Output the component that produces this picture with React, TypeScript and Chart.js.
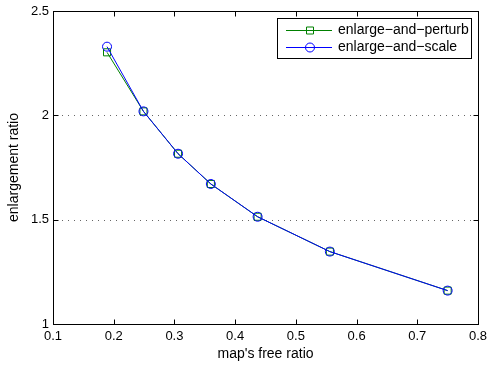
import React, { useEffect, useRef } from "react";
import { Chart, registerables } from "chart.js";

Chart.register(...registerables);

const freeRatio = [0.189, 0.249, 0.306, 0.36, 0.437, 0.556, 0.75];
const perturbValues = [2.302, 2.019, 1.816, 1.671, 1.514, 1.347, 1.16];
const scaleValues = [2.329, 2.019, 1.816, 1.671, 1.514, 1.347, 1.16];
const seriesNames = ["enlarge\u2212and\u2212perturb", "enlarge\u2212and\u2212scale"];
const xTicks = [0.1, 0.2, 0.3, 0.4, 0.5, 0.6, 0.7, 0.8];
const yTicks = [1, 1.5, 2, 2.5];
const xTitle = "map's free ratio";
const yTitle = "enlargement ratio";

const FONT = "Liberation Sans, Arial, Helvetica, sans-serif";
const GREEN = "#008000";
const BLUE = "#0000ff";

const matlabPlugin = {
  id: "matlabFrame",
  beforeDatasetsDraw(chart: any) {
    const { ctx, chartArea: a, scales } = chart;
    const ys = scales.y;
    ctx.save();
    ctx.strokeStyle = "#666";
    ctx.lineWidth = 1;
    ctx.setLineDash([1, 5]);
    yTicks.forEach((v) => {
      if (v === yTicks[0] || v === yTicks[yTicks.length - 1]) return;
      const y = Math.round(ys.getPixelForValue(v)) + 0.5;
      ctx.beginPath();
      ctx.moveTo(a.left + 3, y);
      ctx.lineTo(a.right, y);
      ctx.stroke();
    });
    ctx.restore();
  },
  afterDatasetsDraw(chart: any) {
    const { ctx, chartArea: a, scales } = chart;
    const xs = scales.x;
    const ys = scales.y;
    ctx.save();
    ctx.strokeStyle = "#000";
    ctx.lineWidth = 1;
    const L = Math.round(a.left) + 0.5;
    const R = Math.round(a.right) + 0.5;
    const T = Math.round(a.top) + 0.5;
    const B = Math.round(a.bottom) + 0.5;
    ctx.strokeRect(L, T, R - L, B - T);
    const tl = 5;
    ctx.beginPath();
    xTicks.forEach((v) => {
      const x = Math.round(xs.getPixelForValue(v)) + 0.5;
      ctx.moveTo(x, B);
      ctx.lineTo(x, B - tl);
      ctx.moveTo(x, T);
      ctx.lineTo(x, T + tl);
    });
    yTicks.forEach((v) => {
      const y = Math.round(ys.getPixelForValue(v)) + 0.5;
      ctx.moveTo(L, y);
      ctx.lineTo(L + tl, y);
      ctx.moveTo(R, y);
      ctx.lineTo(R - tl, y);
    });
    ctx.stroke();

    ctx.fillStyle = "#000";
    ctx.font = `13px ${FONT}`;
    ctx.textAlign = "center";
    ctx.textBaseline = "middle";
    xTicks.forEach((v) => {
      ctx.fillText(String(v), xs.getPixelForValue(v), a.bottom + 12);
    });
    ctx.textAlign = "right";
    yTicks.forEach((v) => {
      ctx.fillText(String(v), a.left - 4, ys.getPixelForValue(v));
    });

    ctx.font = `14px ${FONT}`;
    ctx.textAlign = "center";
    ctx.fillText(xTitle, (a.left + a.right) / 2, a.bottom + 30);
    ctx.save();
    ctx.translate(14, (a.top + a.bottom) / 2);
    ctx.rotate(-Math.PI / 2);
    ctx.fillText(yTitle, 0, 0);
    ctx.restore();

    const bx = 277.5, by = 18.5, bw = 194, bh = 40;
    ctx.fillStyle = "#fff";
    ctx.fillRect(bx, by, bw, bh);
    ctx.strokeStyle = "#000";
    ctx.strokeRect(bx, by, bw, bh);
    const rows = [
      { name: seriesNames[0], color: GREEN, shape: "rect", y: 30.5 },
      { name: seriesNames[1], color: BLUE, shape: "circle", y: 47.5 },
    ];
    rows.forEach((r) => {
      ctx.strokeStyle = r.color;
      ctx.beginPath();
      ctx.moveTo(286, r.y);
      ctx.lineTo(332, r.y);
      ctx.stroke();
      ctx.beginPath();
      if (r.shape === "rect") {
        ctx.rect(306.5, r.y - 3.5, 7, 7);
      } else {
        ctx.arc(310, r.y, 4.5, 0, Math.PI * 2);
      }
      ctx.stroke();
      ctx.fillStyle = "#000";
      ctx.textAlign = "left";
      ctx.fillText(r.name, 338, r.y);
    });
    ctx.restore();
  },
};

export default function App() {
  const ref = useRef<HTMLCanvasElement>(null);
  useEffect(() => {
    if (!ref.current) return;
    const chart = new Chart(ref.current, {
      type: "scatter",
      data: {
        datasets: [
          {
            label: seriesNames[0],
            data: freeRatio.map((x, i) => ({ x, y: perturbValues[i] })),
            showLine: true,
            order: 2,
            borderColor: GREEN,
            backgroundColor: "transparent",
            borderWidth: 1,
            pointStyle: "rect",
            pointRadius: 5,
            pointBorderColor: GREEN,
            pointBorderWidth: 1,
          },
          {
            label: seriesNames[1],
            data: freeRatio.map((x, i) => ({ x, y: scaleValues[i] })),
            showLine: true,
            order: 1,
            borderColor: BLUE,
            backgroundColor: "transparent",
            borderWidth: 1,
            pointStyle: "circle",
            pointRadius: 4.5,
            pointBorderColor: BLUE,
            pointBorderWidth: 1,
          },
        ],
      },
      options: {
        animation: false,
        responsive: false,
        maintainAspectRatio: false,
        layout: { padding: { top: 11, right: 10, left: 0, bottom: 0 } },
        plugins: { legend: { display: false }, tooltip: { enabled: false } },
        scales: {
          x: {
            type: "linear",
            min: 0.1,
            max: 0.8,
            grid: { display: false },
            border: { display: false },
            ticks: { display: false, stepSize: 0.1 },
            afterFit: (s: any) => {
              s.height = 41;
            },
          },
          y: {
            type: "linear",
            min: 1,
            max: 2.5,
            grid: { display: false },
            border: { display: false },
            ticks: { display: false, stepSize: 0.5 },
            afterFit: (s: any) => {
              s.width = 53;
            },
          },
        },
      },
      plugins: [matlabPlugin],
    });
    return () => chart.destroy();
  }, []);
  return (
    <div style={{ position: "absolute", left: 0, top: 0, width: 488, height: 365, background: "#fff" }}>
      <canvas ref={ref} width={488} height={365} style={{ width: 488, height: 365 }} />
    </div>
  );
}
